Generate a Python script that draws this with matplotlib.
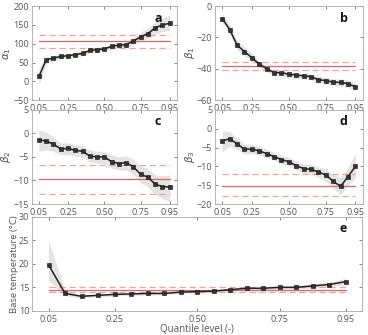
import numpy as np
import matplotlib.pyplot as plt
from matplotlib.transforms import offset_copy

plt.rcParams['font.family'] = ['Open Sans', 'DejaVu Sans']
plt.rcParams['mathtext.fontset'] = 'dejavusans'

q = [0.05, 0.10, 0.15, 0.20, 0.25, 0.30, 0.35, 0.40, 0.45, 0.50,
     0.55, 0.60, 0.65, 0.70, 0.75, 0.80, 0.85, 0.90, 0.95]

# alpha1
a_val = [13, 57, 62, 66, 68, 71, 74, 82, 84, 86, 93, 96, 97, 107, 118, 127, 142, 150, 154]
a_lo = [-10, 45, 55, 60, 62, 65, 68, 75, 78, 80, 86, 89, 90, 98, 106, 113, 125, 132, 135]
a_hi = [38, 65, 68, 72, 74, 77, 80, 88, 90, 92, 100, 103, 105, 116, 130, 142, 158, 168, 176]
a_ref = [108, 88, 123]

# beta1
b_val = [-8, -15, -25, -29, -33, -37, -40, -42.5, -42.5, -43.5, -44, -44.5, -45, -47, -47.5, -48.5, -48.7, -49.5, -51.5]
b_lo = [-11, -18, -28, -32, -35, -39, -42, -44, -44.5, -45.5, -46, -46.5, -47, -49, -49.5, -50.5, -51, -52, -54]
b_hi = [-5, -12, -22, -26, -30, -35, -38, -41, -41, -42, -42.5, -43, -43.5, -45, -45.5, -46.5, -46.5, -47, -49]
b_ref = [-38, -40.5, -35.5]

# beta2
c_val = [-1.4, -1.6, -2.3, -3.3, -3.2, -3.6, -3.8, -4.8, -5.0, -5.0, -6.0, -6.4, -6.2, -7.1, -8.7, -9.3, -10.8, -11.3, -11.4]
c_lo = [-3.8, -3.5, -3.8, -4.5, -4.5, -4.8, -5.0, -6.0, -6.3, -6.4, -7.4, -7.8, -7.8, -8.8, -10.5, -11.3, -13.0, -13.8, -14.5]
c_hi = [0.8, 0.3, -0.8, -2.0, -2.0, -2.4, -2.6, -3.6, -3.8, -3.8, -4.6, -5.0, -4.8, -5.5, -7.0, -7.4, -8.8, -9.0, -8.8]
c_ref = [-9.6, -12.8, -6.8]

# beta3
d_val = [-3.2, -2.7, -4.0, -5.5, -5.4, -5.9, -6.6, -7.4, -8.2, -8.8, -9.8, -10.6, -10.8, -11.5, -12.3, -14.0, -15.3, -12.7, -10.0]
d_lo = [-6.2, -4.6, -5.5, -6.8, -6.6, -7.0, -7.6, -8.4, -9.3, -9.9, -11.0, -11.8, -12.1, -12.9, -13.9, -15.8, -17.5, -15.0, -13.0]
d_hi = [-0.5, -0.8, -2.5, -4.1, -4.1, -4.7, -5.4, -6.3, -7.1, -7.6, -8.6, -9.4, -9.5, -10.1, -10.7, -12.2, -13.0, -10.3, -6.5]
d_ref = [-15.3, -18.0, -11.9]

# base temperature
e_val = [19.8, 13.7, 13.1, 13.3, 13.5, 13.6, 13.7, 13.7, 14.0, 14.1, 14.2, 14.5, 14.8, 14.8, 15.0, 15.0, 15.3, 15.6, 16.2]
e_lo = [16.5, 13.2, 12.8, 13.0, 13.2, 13.3, 13.4, 13.4, 13.7, 13.8, 13.9, 14.2, 14.5, 14.5, 14.7, 14.7, 14.9, 15.1, 15.5]
e_hi = [25.0, 14.3, 13.4, 13.6, 13.8, 13.9, 14.0, 14.0, 14.3, 14.4, 14.5, 14.8, 15.1, 15.1, 15.3, 15.3, 15.7, 16.1, 16.9]
e_ref = [14.5, 14.1, 15.0]

xticks = [0.05, 0.25, 0.50, 0.75, 0.95]
xticklabels = ['0.05', '0.25', '0.50', '0.75', '0.95']

fig = plt.figure(figsize=(3.68, 3.35), dpi=100)

h = 0.281
panels = [
    ([0.086, 0.701, 0.395, h], a_val, a_lo, a_hi, a_ref, (-50, 200), [-50, 0, 50, 100, 150, 200], r'$\alpha_1$', 'a'),
    ([0.584, 0.701, 0.402, h], b_val, b_lo, b_hi, b_ref, (-60, 0), [-60, -40, -20, 0], r'$\beta_1$', 'b'),
    ([0.086, 0.391, 0.395, h], c_val, c_lo, c_hi, c_ref, (-15, 5), [-15, -10, -5, 0, 5], r'$\beta_2$', 'c'),
    ([0.584, 0.391, 0.402, h], d_val, d_lo, d_hi, d_ref, (-20, 5), [-20, -15, -10, -5, 0, 5], r'$\beta_3$', 'd'),
    ([0.087, 0.072, 0.897, h], e_val, e_lo, e_hi, e_ref, (10, 30), [10, 15, 20, 25, 30], 'Base temperature (°C)', 'e'),
]

red = '#e06666'
pink = '#f0a0a0'
tcol = '#555555'

for pos, val, lo, hi, ref, ylim, yt, ylab, tag in panels:
    ax = fig.add_axes(pos)
    ax.fill_between(q, lo, hi, color='#e3e3e3', lw=0)
    ax.axhline(ref[0], xmin=0.05, xmax=0.95, color=red, lw=0.9)
    ax.axhline(ref[1], xmin=0.05, xmax=0.95, color=pink, lw=0.9, ls=(0, (5, 3)))
    ax.axhline(ref[2], xmin=0.05, xmax=0.95, color=pink, lw=0.9, ls=(0, (5, 3)))
    ax.plot(q, val, color='#222222', lw=1.1, marker='s', ms=2.6,
            mfc='#333333', mec='#111111', mew=0.4)
    ax.set_xlim(0, 1)
    ax.set_ylim(*ylim)
    ax.set_yticks(yt)
    ax.set_xticks(xticks)
    ax.set_xticklabels(xticklabels)
    ax.tick_params(direction='in', top=True, right=True, labelsize=6.5,
                   colors=tcol, length=2.5, width=0.5, pad=2)
    ax.tick_params(axis='x', pad=3)
    for s in ax.spines.values():
        s.set_color('#aaaaaa')
        s.set_linewidth(0.6)
    ax.set_ylabel(ylab, fontsize=6.8 if tag == 'e' else 7.5, color=tcol, labelpad=0)
    tr = offset_copy(ax.transAxes, fig=fig, x=-19, y=-12, units='dots')
    ax.text(1, 1, tag, transform=tr, ha='center', va='center',
            fontsize=9, fontweight='bold', color='#111111')
    if tag == 'e':
        ax.set_xlabel('Quantile level (-)', fontsize=7, color=tcol, labelpad=0)

fig.savefig('out.png', dpi=100)
